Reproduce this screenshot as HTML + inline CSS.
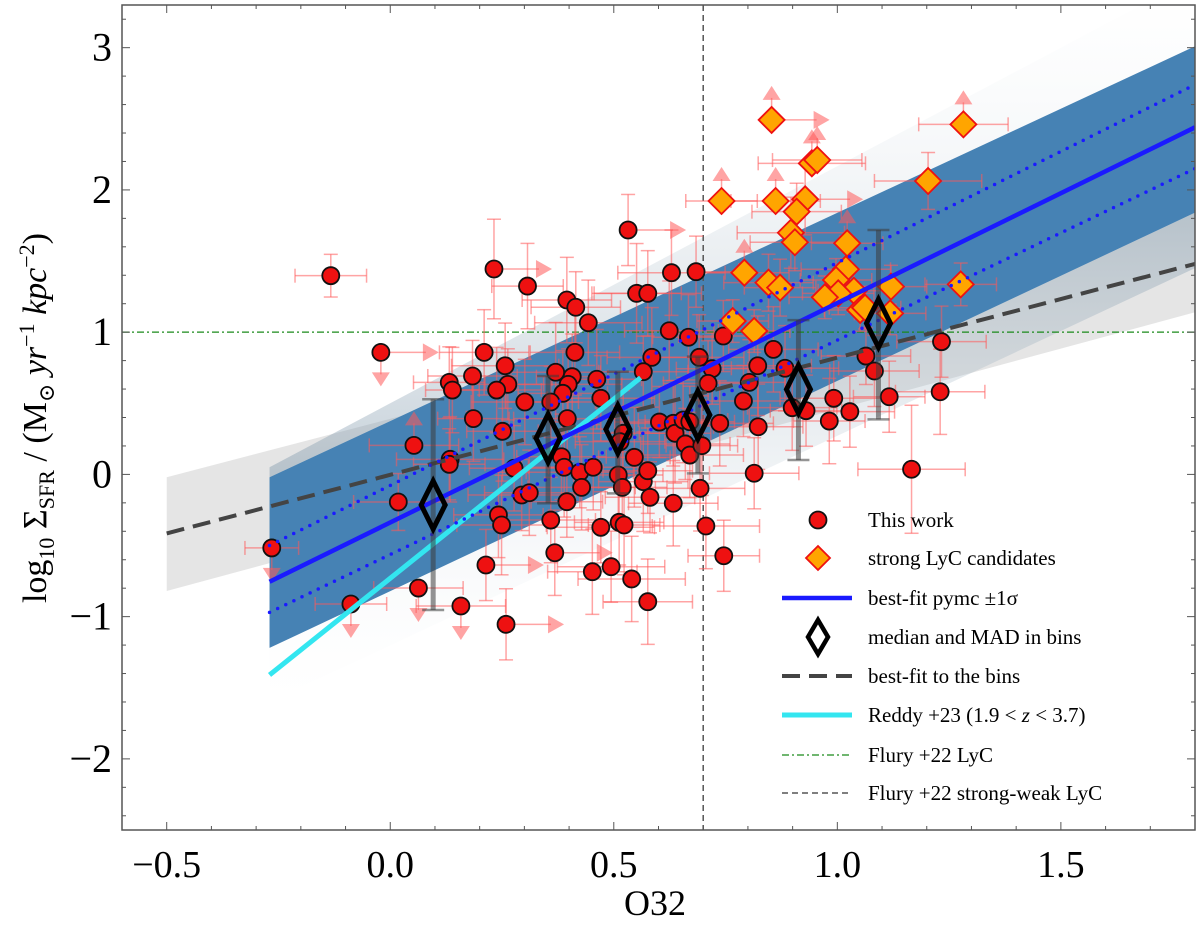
<!DOCTYPE html>
<html><head><meta charset="utf-8"><style>
html,body{margin:0;padding:0;background:#fff;}
svg{display:block;font-family:"Liberation Serif","DejaVu Serif",serif;}
</style></head><body>
<svg id="chart" width="1200" height="925" viewBox="0 0 1200 925" xmlns="http://www.w3.org/2000/svg">
<defs>
<clipPath id="plotclip"><rect x="122" y="5" width="1073" height="825"/></clipPath>
<linearGradient id="haloTop" x1="0" y1="1" x2="0" y2="0"><stop offset="0" stop-color="#7f98ab" stop-opacity="0.45"/><stop offset="1" stop-color="#e8eef2" stop-opacity="0.0"/></linearGradient>
<linearGradient id="haloBot" x1="0" y1="0" x2="0" y2="1"><stop offset="0" stop-color="#7f98ab" stop-opacity="0.45"/><stop offset="1" stop-color="#e8eef2" stop-opacity="0.0"/></linearGradient>
</defs>
<g id="plot" clip-path="url(#plotclip)"></g>
<g id="axes"></g>
<g id="legend"></g>
</svg>
<script>
// ---- data ----
const circX = [-0.133,-0.021,0.132,0.139,0.184,0.186,0.053,0.134,0.132,0.018,
 -0.265,0.063,-0.088,0.158,0.532,0.232,0.307,0.395,0.415,0.443,
 0.629,0.684,0.551,0.576,0.624,0.667,0.745,0.210,0.413,0.585,
 0.257,0.263,0.238,0.370,0.407,0.398,0.386,0.462,0.471,0.566,
 0.691,0.720,0.711,0.301,0.359,0.251,0.396,0.602,0.633,0.637,
 0.655,0.670,0.737,0.790,0.803,0.822,0.521,0.514,0.383,0.389,
 0.277,0.424,0.454,0.546,0.510,0.519,0.428,0.566,0.576,0.581,
 0.633,0.660,0.670,0.697,0.693,0.294,0.311,0.395,0.242,0.249,
 0.359,0.471,0.512,0.523,0.706,0.814,0.823,0.368,0.746,0.214,
 0.452,0.494,0.540,0.576,0.259,0.857,1.233,1.064,1.083,0.883,
 1.230,1.116,0.992,0.899,0.930,1.028,0.982,1.166];
const circY = [1.397,0.858,0.647,0.593,0.692,0.392,0.204,0.106,0.071,-0.194,
 -0.517,-0.799,-0.911,-0.925,1.718,1.444,1.324,1.226,1.175,1.066,
 1.418,1.425,1.273,1.273,1.010,0.964,0.973,0.858,0.858,0.823,
 0.764,0.633,0.593,0.718,0.687,0.633,0.570,0.669,0.535,0.722,
 0.823,0.743,0.640,0.509,0.509,0.303,0.392,0.368,0.359,0.289,
 0.382,0.370,0.359,0.516,0.647,0.764,0.289,0.230,0.124,0.050,
 0.043,0.015,0.050,0.120,-0.004,-0.091,-0.091,-0.051,0.026,-0.161,
 -0.203,0.214,0.136,0.202,-0.098,-0.145,-0.129,-0.192,-0.285,-0.356,
 -0.321,-0.372,-0.337,-0.356,-0.363,0.008,0.335,-0.551,-0.572,-0.637,
 -0.684,-0.649,-0.735,-0.895,-1.054,0.879,0.933,0.832,0.727,0.746,
 0.581,0.546,0.535,0.469,0.448,0.441,0.375,0.036];
const circXErr = [0.08,0.05,0.08,0.06,0.10,0.08,0.10,0.12,0.08,0.10,
 0.06,0.10,0.08,0.10,0.10,0.12,0.08,0.10,0.10,0.12,
 0.12,0.10,0.10,0.12,0.10,0.08,0.10,0.10,0.10,0.10,
 0.12,0.08,0.10,0.10,0.08,0.12,0.10,0.10,0.12,0.10,
 0.10,0.08,0.10,0.12,0.10,0.08,0.12,0.10,0.10,0.08,
 0.10,0.10,0.12,0.10,0.08,0.12,0.10,0.10,0.10,0.08,
 0.10,0.12,0.10,0.08,0.10,0.10,0.12,0.10,0.10,0.10,
 0.10,0.10,0.12,0.08,0.10,0.12,0.10,0.08,0.10,0.10,
 0.10,0.12,0.10,0.08,0.12,0.10,0.10,0.10,0.08,0.10,
 0.10,0.12,0.12,0.10,0.12,0.10,0.10,0.10,0.10,0.12,
 0.10,0.08,0.12,0.10,0.08,0.10,0.08,0.12];
const circYErr = [0.15,0.00,0.25,0.30,0.25,0.30,0.20,0.30,0.25,0.20,
 0.00,0.00,0.00,0.00,0.25,0.35,0.30,0.30,0.25,0.30,
 0.30,0.25,0.35,0.30,0.35,0.30,0.25,0.30,0.30,0.35,
 0.30,0.25,0.30,0.35,0.30,0.25,0.30,0.35,0.30,0.25,
 0.30,0.25,0.30,0.30,0.25,0.35,0.30,0.25,0.30,0.35,
 0.30,0.25,0.30,0.25,0.30,0.35,0.30,0.25,0.30,0.35,
 0.30,0.25,0.30,0.35,0.30,0.25,0.30,0.35,0.30,0.25,
 0.30,0.25,0.30,0.35,0.30,0.25,0.30,0.25,0.30,0.35,
 0.30,0.25,0.30,0.35,0.30,0.25,0.30,0.30,0.25,0.25,
 0.30,0.25,0.30,0.30,0.25,0.30,0.25,0.20,0.25,0.30,
 0.30,0.25,0.30,0.30,0.25,0.25,0.30,0.45];
const circLim = ["","rd","","","","","u","","","",
 "d","d","d","d","r","r","","","","",
 "","r","","","","","","","","",
 "","","","","","","","","","",
 "","","","","","","","","","",
 "","","","","","","","","","",
 "","","","","","","","","","",
 "","","","","","","","","","",
 "","","","","","","","r","","r",
 "","","","","r","","","","","",
 "","","","","","","",""];
const candX = [0.853,1.282,0.943,0.955,1.203,0.741,0.862,0.928,0.909,0.896,0.905,1.022,0.792,0.846,0.872,1.019,0.997,1.276,1.120,1.037,1.002,0.972,1.051,1.062,1.118,0.766,0.814];
const candY = [2.492,2.461,2.187,2.210,2.063,1.922,1.922,1.934,1.847,1.699,1.632,1.625,1.418,1.348,1.313,1.442,1.367,1.336,1.320,1.291,1.273,1.245,1.156,1.172,1.132,1.078,1.008];
const candXErr = [0.10,0.10,0.12,0.10,0.12,0.08,0.10,0.10,0.10,0.12,0.10,0.08,0.10,0.10,0.08,0.10,0.08,0.08,0.08,0.08,0.08,0.08,0.08,0.08,0.08,0.08,0.08];
const candYErr = [0.00,0.00,0.00,0.00,0.20,0.00,0.00,0.25,0.20,0.25,0.20,0.00,0.00,0.20,0.20,0.20,0.15,0.15,0.15,0.15,0.15,0.15,0.15,0.15,0.15,0.15,0.15];
const candLim = ["ur","u","u","u","","u","u","r","","","","u","u","","","","","","","","","","","","","",""];
const binX = [0.096,0.353,0.509,0.688,0.913,1.092];
const binY = [-0.215,0.254,0.317,0.418,0.598,1.062];
const binLo = [-0.953,-0.203,-0.133,0.007,0.101,0.387];
const binHi = [0.528,0.692,0.722,0.828,1.085,1.718];
const fitX = [-0.27,1.8];
const fitY = [-0.755,2.44];
const fitUpY = [-0.50,2.74];
const fitLoY = [-0.97,2.15];
const bandTopY = [-0.02,3.01];
const bandBotY = [-1.22,1.84];
const haloTopY = [0.05,3.5];
const haloBotY = [-1.6,1.45];
const binFitX = [-0.5,1.8];
const binFitY = [-0.415,1.48];
const binBandTop = [-0.02,1.87];
const binBandBot = [-0.82,1.14];
const reddyX = [-0.27,0.56];
const reddyY = [-1.41,0.68];
const xTicks = [-0.5,0.0,0.5,1.0,1.5];
const xTickLabels = ["−0.5","0.0","0.5","1.0","1.5"];
const yTicks = [-2,-1,0,1,2,3];
const yTickLabels = ["−2","−1","0","1","2","3"];

// ---- scales ----
const X0=122, X1=1195, Y0=5, Y1=830, XMIN=-0.6, XMAX=1.8, YMIN=-2.5, YMAX=3.3;
function sx(v){return X0+(v-XMIN)/(XMAX-XMIN)*(X1-X0);}
function sy(v){return Y1-(v-YMIN)/(YMAX-YMIN)*(Y1-Y0);}
const NS="http://www.w3.org/2000/svg";
function mk(tag, attrs, parent){const e=document.createElementNS(NS,tag);for(const k in attrs)e.setAttribute(k,attrs[k]);parent.appendChild(e);return e;}
const plot=document.getElementById('plot'), axes=document.getElementById('axes'), legend=document.getElementById('legend');

let g=mk('polygon',{points:`${sx(binFitX[0])},${sy(binBandTop[0])} ${sx(binFitX[1])},${sy(binBandTop[1])} ${sx(binFitX[1])},${sy(binBandBot[1])} ${sx(binFitX[0])},${sy(binBandBot[0])}`,fill:'#dcdcdc','fill-opacity':'0.75'},plot);


g=mk('polygon',{points:`${sx(fitX[0])},${sy(haloTopY[0])} ${sx(fitX[1])},${sy(haloTopY[1])} ${sx(fitX[1])},${sy(bandTopY[1])} ${sx(fitX[0])},${sy(bandTopY[0])}`,fill:'url(#haloTop)'},plot);


g=mk('polygon',{points:`${sx(fitX[0])},${sy(bandBotY[0])} ${sx(fitX[1])},${sy(bandBotY[1])} ${sx(fitX[1])},${sy(haloBotY[1])} ${sx(fitX[0])},${sy(haloBotY[0])}`,fill:'url(#haloBot)'},plot);


g=mk('polygon',{points:`${sx(fitX[0])},${sy(bandTopY[0])} ${sx(fitX[1])},${sy(bandTopY[1])} ${sx(fitX[1])},${sy(bandBotY[1])} ${sx(fitX[0])},${sy(bandBotY[0])}`,fill:'#4682b4'},plot);



g=mk('line',{x1:X0,x2:X1,y1:sy(1),y2:sy(1),stroke:'#1a8a1a','stroke-width':1.3,'stroke-dasharray':'7 3 2 3'},plot);


g=mk('line',{x1:sx(0.7),x2:sx(0.7),y1:Y0,y2:Y1,stroke:'#555','stroke-width':1.5,'stroke-dasharray':'6 4'},plot);



const EC='rgba(255,90,90,0.55)';
function errbar(x,y,xe,ye,lim,parent){
  if(xe>0 && lim.indexOf('r')<0){
    mk('line',{x1:sx(x-xe),x2:sx(x+xe),y1:sy(y),y2:sy(y),stroke:EC,'stroke-width':1.5},parent);
    mk('line',{x1:sx(x-xe),x2:sx(x-xe),y1:sy(y)-7,y2:sy(y)+7,stroke:EC,'stroke-width':1.5},parent);
    mk('line',{x1:sx(x+xe),x2:sx(x+xe),y1:sy(y)-7,y2:sy(y)+7,stroke:EC,'stroke-width':1.5},parent);
  }
  if(ye>0 && lim.indexOf('u')<0 && lim.indexOf('d')<0){
    mk('line',{x1:sx(x),x2:sx(x),y1:sy(y-ye),y2:sy(y+ye),stroke:EC,'stroke-width':1.5},parent);
    mk('line',{x1:sx(x)-7,x2:sx(x)+7,y1:sy(y-ye),y2:sy(y-ye),stroke:EC,'stroke-width':1.5},parent);
    mk('line',{x1:sx(x)-7,x2:sx(x)+7,y1:sy(y+ye),y2:sy(y+ye),stroke:EC,'stroke-width':1.5},parent);
  }
  const px=sx(x), py=sy(y);
  if(lim.indexOf('r')>=0){
    mk('line',{x1:px,x2:px+45,y1:py,y2:py,stroke:EC,'stroke-width':1.5},parent);
    mk('polygon',{points:`${px+42},${py-9} ${px+58},${py} ${px+42},${py+9}`,fill:EC},parent);
  }
  if(lim.indexOf('u')>=0){
    mk('line',{x1:px,x2:px,y1:py,y2:py-22,stroke:EC,'stroke-width':1.5},parent);
    mk('polygon',{points:`${px-9},${py-20} ${px},${py-34} ${px+9},${py-20}`,fill:EC},parent);
  }
  if(lim.indexOf('d')>=0){
    mk('line',{x1:px,x2:px,y1:py,y2:py+22,stroke:EC,'stroke-width':1.5},parent);
    mk('polygon',{points:`${px-9},${py+20} ${px},${py+34} ${px+9},${py+20}`,fill:EC},parent);
  }
}
const eg=mk('g',{},plot);


for(let i=0;i<circX.length;i++) errbar(circX[i],circY[i],circXErr[i],circYErr[i],circLim[i],eg);
for(let i=0;i<candX.length;i++) errbar(candX[i],candY[i],candXErr[i],candYErr[i],candLim[i],eg);

for(let i=0;i<circX.length;i++){
  const c=mk('circle',{cx:sx(circX[i]),cy:sy(circY[i]),r:8.5,fill:'#ee1111',stroke:'#111','stroke-width':1.8},plot);
  
  
}
for(let i=0;i<candX.length;i++){
  const px=sx(candX[i]),py=sy(candY[i]);
  const d=mk('polygon',{points:`${px},${py-13} ${px+13},${py} ${px},${py+13} ${px-13},${py}`,fill:'#ffa500',stroke:'#ee1111','stroke-width':1.8},plot);
  
  
}

g=mk('line',{x1:sx(binFitX[0]),y1:sy(binFitY[0]),x2:sx(binFitX[1]),y2:sy(binFitY[1]),stroke:'#444','stroke-width':4,'stroke-dasharray':'18 9'},plot);


g=mk('line',{x1:sx(reddyX[0]),y1:sy(reddyY[0]),x2:sx(reddyX[1]),y2:sy(reddyY[1]),stroke:'#33e6f0','stroke-width':5},plot);


g=mk('line',{x1:sx(fitX[0]),y1:sy(fitY[0]),x2:sx(fitX[1]),y2:sy(fitY[1]),stroke:'#1a1aff','stroke-width':4.5},plot);


g=mk('line',{x1:sx(fitX[0]),y1:sy(fitUpY[0]),x2:sx(fitX[1]),y2:sy(fitUpY[1]),stroke:'#1a1aff','stroke-width':3.5,'stroke-dasharray':'0 9','stroke-linecap':'round'},plot);


g=mk('line',{x1:sx(fitX[0]),y1:sy(fitLoY[0]),x2:sx(fitX[1]),y2:sy(fitLoY[1]),stroke:'#1a1aff','stroke-width':3.5,'stroke-dasharray':'0 9','stroke-linecap':'round'},plot);



for(let i=0;i<binX.length;i++){
  const px=sx(binX[i]),py=sy(binY[i]);
  const b=mk('g',{},plot);
  
  
  mk('line',{x1:px,x2:px,y1:sy(binHi[i]),y2:sy(binLo[i]),stroke:'rgba(60,60,60,0.55)','stroke-width':5},b);
  mk('line',{x1:px-11,x2:px+11,y1:sy(binHi[i]),y2:sy(binHi[i]),stroke:'rgba(60,60,60,0.55)','stroke-width':2.5},b);
  mk('line',{x1:px-11,x2:px+11,y1:sy(binLo[i]),y2:sy(binLo[i]),stroke:'rgba(60,60,60,0.55)','stroke-width':2.5},b);
  mk('polygon',{points:`${px},${py-24} ${px+12},${py} ${px},${py+24} ${px-12},${py}`,fill:'none',stroke:'#000','stroke-width':5},b);
}

g=mk('rect',{x:X0,y:Y0,width:X1-X0,height:Y1-Y0,fill:'none',stroke:'#555','stroke-width':1.5},axes);


for(let v=-0.6;v<=1.8001;v+=0.1){
  const px=sx(v), maj=Math.abs(v*2-Math.round(v*2))<1e-6, L=maj?8:4;
  mk('line',{x1:px,x2:px,y1:Y1,y2:Y1-L,stroke:'#555','stroke-width':1},axes);
  mk('line',{x1:px,x2:px,y1:Y0,y2:Y0+L,stroke:'#555','stroke-width':1},axes);
}
for(let v=-2.4;v<=3.3;v+=0.2){
  const py=sy(v), maj=Math.abs(v-Math.round(v))<1e-6, L=maj?8:4;
  mk('line',{x1:X0,x2:X0+L,y1:py,y2:py,stroke:'#555','stroke-width':1},axes);
  mk('line',{x1:X1,x2:X1-L,y1:py,y2:py,stroke:'#555','stroke-width':1},axes);
}
for(let i=0;i<xTicks.length;i++){
  const t=mk('text',{x:sx(xTicks[i]),y:877,'text-anchor':'middle','font-size':38,fill:'#000'},axes);
  t.textContent=xTickLabels[i];
  
  
}
for(let i=0;i<yTicks.length;i++){
  const t=mk('text',{x:112,y:sy(yTicks[i])+13,'text-anchor':'end','font-size':40,fill:'#000'},axes);
  t.textContent=yTickLabels[i];
  
  
}
</script>
<script>
(function(){
const NS="http://www.w3.org/2000/svg";
const axes=document.getElementById('axes');
const xl=document.createElementNS(NS,'text');
xl.setAttribute('x',655);xl.setAttribute('y',915);xl.setAttribute('text-anchor','middle');xl.setAttribute('font-size',36);
xl.textContent='O32';


axes.appendChild(xl);
const yl=document.createElementNS(NS,'text');
yl.setAttribute('transform','translate(46,418) rotate(-90)');yl.setAttribute('text-anchor','middle');yl.setAttribute('font-size',34);
yl.innerHTML='log<tspan font-size="22" dy="8">10</tspan><tspan dy="-8"> Σ</tspan><tspan font-size="22" dy="8">SFR</tspan><tspan dy="-8"> / (M</tspan><tspan font-size="22" dy="8">⊙</tspan><tspan dy="-8" font-style="italic"> yr</tspan><tspan font-size="22" dy="-12">−1</tspan><tspan dy="12" font-style="italic"> kpc</tspan><tspan font-size="22" dy="-12">−2</tspan><tspan dy="12">)</tspan>';


axes.appendChild(yl);

const lg=document.getElementById('legend');
const rows=[520,558,598,637,676,715,755,793];
const labels=['This work','strong LyC candidates','best-fit pymc ±1σ','median and MAD in bins','best-fit to the bins','Reddy +23 (1.9 &lt; <tspan font-style="italic">z</tspan> &lt; 3.7)','Flury +22 LyC','Flury +22 strong-weak LyC'];
const names=['legend-this-work','legend-lyc-candidates','legend-pymc-fit','legend-median-bins','legend-bin-fit','legend-reddy','legend-flury-lyc','legend-flury-strong-weak'];
function el(tag,a,p){const e=document.createElementNS(NS,tag);for(const k in a)e.setAttribute(k,a[k]);p.appendChild(e);return e;}
for(let i=0;i<rows.length;i++){
  const y=rows[i];
  const row=el('g',{},lg);
  
  
  if(i===0) el('circle',{cx:818,cy:y,r:8.5,fill:'#ee1111',stroke:'#111','stroke-width':1.8},row);
  if(i===1) el('polygon',{points:`818,${y-12} 830,${y} 818,${y+12} 806,${y}`,fill:'#ffa500',stroke:'#ee1111','stroke-width':1.8},row);
  if(i===2) el('line',{x1:782,x2:852,y1:y,y2:y,stroke:'#1a1aff','stroke-width':4.5},row);
  if(i===3) el('polygon',{points:`818,${y-17} 828,${y} 818,${y+17} 808,${y}`,fill:'none',stroke:'#000','stroke-width':4.5},row);
  if(i===4) el('line',{x1:782,x2:852,y1:y,y2:y,stroke:'#444','stroke-width':4,'stroke-dasharray':'18 9'},row);
  if(i===5) el('line',{x1:782,x2:852,y1:y,y2:y,stroke:'#33e6f0','stroke-width':5},row);
  if(i===6) el('line',{x1:782,x2:852,y1:y,y2:y,stroke:'#1a8a1a','stroke-width':1.3,'stroke-dasharray':'7 3 2 3'},row);
  if(i===7) el('line',{x1:782,x2:852,y1:y,y2:y,stroke:'#555','stroke-width':1.5,'stroke-dasharray':'6 4'},row);
  const t=el('text',{x:868,y:y+7,'font-size':21,fill:'#000'},row);
  t.innerHTML=labels[i];
}
})();
</script>
</body></html>
